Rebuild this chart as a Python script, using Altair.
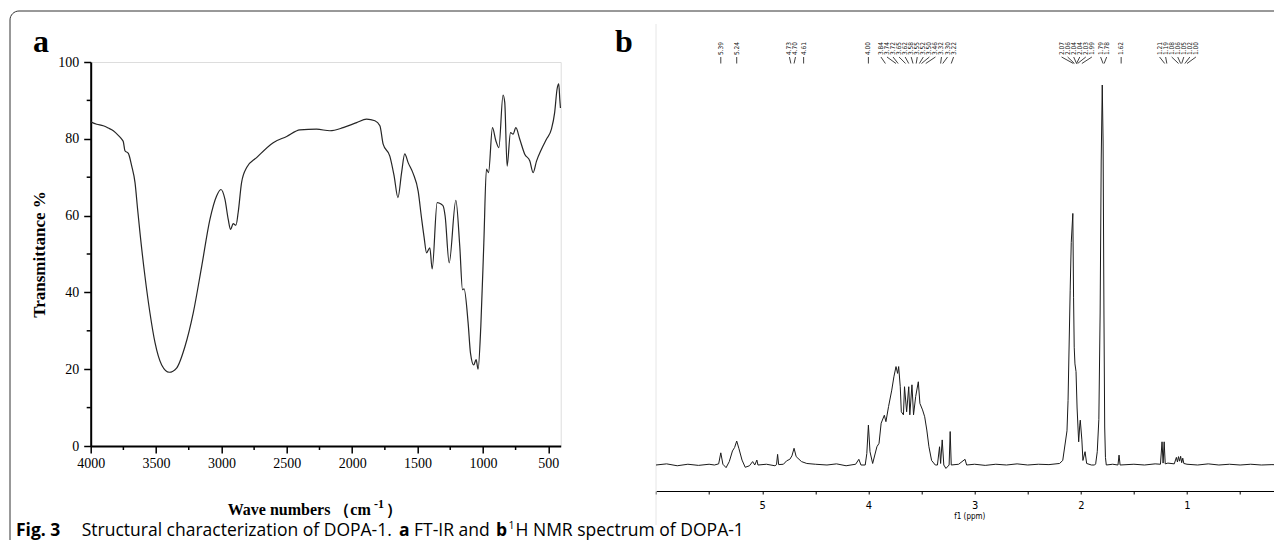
import altair as alt
import pandas as pd

# ---------------- data ----------------
# FT-IR spectrum (panel a)
ir_wavenumber = [4000, 3954, 3904, 3865, 3827, 3789, 3763, 3751, 3738, 3712, 3687, 3661, 3641, 3623,
                 3585, 3547, 3508, 3457, 3399, 3343, 3279, 3216, 3151, 3088, 3037, 3004, 2973, 2948,
                 2930, 2910, 2889, 2872, 2846, 2807, 2731, 2604, 2501, 2400, 2272, 2170, 2069, 1966,
                 1890, 1826, 1788, 1763, 1712, 1679, 1650, 1622, 1598, 1572, 1534, 1495, 1470, 1450,
                 1431, 1406, 1388, 1350, 1320, 1304, 1289, 1258, 1207, 1177, 1156, 1144, 1113, 1095,
                 1070, 1052, 1037, 1016, 993, 973, 957, 927, 901, 878, 846, 833, 815, 789, 769, 748,
                 718, 680, 641, 616, 590, 552, 514, 476, 451, 433, 420, 412, 407]
ir_transmittance = [84.4, 83.8, 83.4, 82.8, 82.1, 80.9, 79.9, 79.3, 76.9, 76.2, 73.0, 68.6, 61.6, 55.5,
                    44.2, 34.7, 26.9, 21.1, 19.2, 20.3, 25.9, 34.6, 46.8, 59.0, 65.1, 66.8, 64.2, 59.0,
                    56.4, 57.9, 57.5, 60.8, 68.6, 72.5, 75.1, 79.0, 80.6, 82.3, 82.5, 82.1, 82.9, 84.2,
                    85.1, 84.7, 83.4, 78.6, 75.5, 70.3, 64.7, 71.2, 76.1, 73.8, 71.0, 66.3, 59.5, 54.4,
                    50.3, 51.6, 46.1, 63.4, 63.0, 62.5, 59.9, 47.7, 64.0, 52.0, 40.7, 40.9, 32.0, 24.2,
                    21.1, 22.5, 20.0, 31.2, 52.9, 72.1, 71.2, 82.9, 79.5, 77.7, 91.4, 89.5, 72.9, 81.6,
                    81.2, 82.9, 79.9, 76.0, 74.2, 71.2, 74.2, 77.3, 79.9, 82.5, 86.9, 92.9, 94.3, 90.3,
                    88.0]
ir_x_ticks = [4000, 3500, 3000, 2500, 2000, 1500, 1000, 500]
ir_x_minor = [3750, 3250, 2750, 2250, 1750, 1250, 750]
ir_y_ticks = [0, 20, 40, 60, 80, 100]
ir_y_minor = [10, 30, 50, 70, 90]

# 1H NMR spectrum (panel b): chemical shift (ppm) and relative intensity
nmr_ppm = [6.00, 5.90, 5.80, 5.70, 5.60, 5.50, 5.45, 5.41, 5.39, 5.37, 5.34, 5.31, 5.28, 5.26, 5.24,
           5.22, 5.19, 5.16, 5.12, 5.09, 5.07, 5.05, 5.04, 4.96, 4.88, 4.865, 4.855, 4.845, 4.80,
           4.77, 4.74, 4.72, 4.70, 4.68, 4.63, 4.58, 4.50, 4.39, 4.30, 4.21, 4.12, 4.09, 4.07,
           4.03, 4.015, 4.00, 3.985, 3.96, 3.92, 3.90, 3.88, 3.85, 3.835, 3.81, 3.78, 3.76, 3.74,
           3.725, 3.715, 3.70, 3.69, 3.67, 3.66, 3.64, 3.62, 3.61, 3.59, 3.575, 3.555, 3.53, 3.515,
           3.49, 3.47, 3.45, 3.43, 3.405, 3.37, 3.35, 3.33, 3.32, 3.305, 3.29, 3.27, 3.24, 3.23,
           3.22, 3.15, 3.09, 3.075, 3.00, 2.90, 2.80, 2.70, 2.60, 2.50, 2.40, 2.30, 2.20, 2.17,
           2.13, 2.12, 2.10, 2.09, 2.075, 2.068, 2.062, 2.055, 2.045, 2.035, 2.02, 2.01, 2.005,
           1.99, 1.98, 1.96, 1.945, 1.90, 1.87, 1.86, 1.845, 1.83, 1.818, 1.808, 1.798, 1.79,
           1.782, 1.775, 1.768, 1.76, 1.70, 1.65, 1.64, 1.63, 1.50, 1.40, 1.30, 1.25, 1.235,
           1.225, 1.215, 1.205, 1.18, 1.12, 1.10, 1.09, 1.08, 1.07, 1.06, 1.05, 1.04, 1.03, 1.00,
           0.90, 0.80, 0.70, 0.60, 0.50, 0.40, 0.30, 0.20, 0.10]
nmr_intensity = [0.0, 0.3, -0.2, 0.2, -0.1, 0.2, 0.0, 0.3, 3.2, 0.2, -0.7, 0.9, 3.7, 4.6, 6.3,
                 4.4, 1.3, -0.6, -0.2, 0.9, 0.0, 1.3, 0.0, 0.2, -0.2, 0.1, 2.8, 0.1, 0.2,
                 1.1, 1.5, 2.4, 4.4, 2.2, 0.9, 0.4, 0.2, 0.0, 0.3, -0.2, 0.2, 1.5, 0.0,
                 0.0, 3.0, 10.5, 3.5, 0.4, 4.8, 5.7, 11.0, 13.1, 11.4, 15.4, 19.7, 23.2, 25.9,
                 24.1, 25.9, 20.6, 14.0, 13.2, 20.6, 14.0, 20.6, 13.2, 21.1, 13.2, 18.0, 21.9, 16.2,
                 14.5, 12.7, 9.2, 4.8, 1.2, 0.0, 0.0, 4.8, 0.4, 6.6, 0.0, -0.9, 0.0, 8.8,
                 0.0, 0.2, 1.5, 0.0, 0.2, -0.1, 0.2, 0.0, 0.3, 0.0, 0.2, 0.1, 0.4, 1.2,
                 9.0, 17.0, 46.0, 58.5, 66.2, 44.0, 31.0, 26.6, 24.6, 15.0, 6.1, 10.5, 11.8,
                 6.6, 1.2, 3.5, 0.4, 0.0, 0.0, 0.3, 3.5, 12.0, 40.0, 80.0, 100.0, 85.0,
                 40.0, 10.0, 2.0, 0.0, 0.2, 0.0, 2.6, 0.0, 0.2, 0.0, 0.3, 0.2, 6.1,
                 0.5, 6.1, 0.3, 0.5, 0.3, 2.0, 0.8, 2.2, 1.0, 2.3, 0.6, 1.8, 0.4, 0.2,
                 0.0, 0.3, 0.0, 0.2, 0.0, 0.2, 0.0, 0.1, 0.0]
nmr_peak_labels = [5.39, 5.24, 4.73, 4.70, 4.61, 4.00, 3.84, 3.74, 3.72, 3.65, 3.62, 3.58, 3.55,
                   3.52, 3.50, 3.46, 3.32, 3.30, 3.22, 2.07, 2.06, 2.04, 2.04, 2.03, 1.99, 1.79,
                   1.78, 1.62, 1.21, 1.19, 1.08, 1.06, 1.05, 1.02, 1.00]
nmr_ticks = [6.0, 5.5, 5.0, 4.5, 4.0, 3.5, 3.0, 2.5, 2.0, 1.5, 1.0, 0.5]

caption_parts = ["Fig. 3", "Structural characterization of DOPA-1.", "a", "FT-IR and", "b", "1",
                 "H NMR spectrum of DOPA-1"]
x_title_parts = ["Wave numbers （cm", "-1", "）"]

# ---------------- layout ----------------
W, H = 470, 384                 # FT-IR plot area
PAD_L, PAD_T = 82.7, 54
SVG_W, SVG_H = 1266, 532
NMR_X0, NMR_PX_PER_PPM = 565.3, 106.2
NMR_DOMAIN = [6.0, 0.1]
NMR_BASE_Y, NMR_TOP_Y = 403, 23

SERIF = "Liberation Serif, Times New Roman, serif"
SANS = "Open Sans, Noto Sans, sans-serif"
NARROW = "Liberation Sans Narrow, DejaVu Sans Condensed, Arial Narrow, sans-serif"

CAP_Y = 473.5        # caption baseline (plot coords)
TITLE_Y = 453        # x-axis title baseline (plot coords)
CAP_FS = 17.5


def spread(values, gap):
    pos = sorted([float(v) for v in values], reverse=True)
    for _ in range(400):
        for i in range(len(pos) - 1):
            d = pos[i] - pos[i + 1]
            if d < gap:
                s = (gap - d) / 2
                pos[i] += s
                pos[i + 1] -= s
    return pos


peaks_sorted = sorted(nmr_peak_labels, reverse=True)
label_pos = spread(peaks_sorted, 0.057)

ir_df = pd.DataFrame({"wn": ir_wavenumber, "t": ir_transmittance})
nmr_df = pd.DataFrame({"ppm": nmr_ppm, "i": nmr_intensity})
lab_df = pd.DataFrame({"peak": peaks_sorted, "lx": label_pos,
                       "txt": [f"{v:.2f}" for v in peaks_sorted]})

ir_x = alt.Scale(domain=[4000, 405], range=[0, W], nice=False, zero=False)
ir_y = alt.Scale(domain=[0, 100], range=[H, 0], nice=False, zero=False)
nmr_x = alt.Scale(domain=NMR_DOMAIN,
                  range=[NMR_X0, NMR_X0 + (NMR_DOMAIN[0] - NMR_DOMAIN[1]) * NMR_PX_PER_PPM],
                  nice=False, zero=False)
nmr_y = alt.Scale(domain=[0, 100], range=[NMR_BASE_Y, NMR_TOP_Y], nice=False, zero=False)

one = pd.DataFrame({"k": [0]})


def text(t, x, y, size, font, weight="normal", align="left", baseline="alphabetic", color="black"):
    return alt.Chart(one).mark_text(align=align, baseline=baseline, fontSize=size, font=font,
                                    fontWeight=weight, color=color).encode(
        x=alt.value(x), y=alt.value(y), text=alt.value(t))


frame = alt.Chart(one).mark_rect(fill="transparent", stroke="#333333", strokeWidth=1, cornerRadius=9).encode(
    x=alt.value(-80.7), y=alt.value(-51), x2=alt.value(1300), y2=alt.value(600))

nmr_edge = alt.Chart(one).mark_rule(color="#e6e6e6", strokeWidth=1).encode(
    x=alt.value(NMR_X0), y=alt.value(-38), y2=alt.value(463))

axis_common = dict(tickSize=7, tickWidth=1.5, domainWidth=2, labelFont=SERIF, labelFontSize=14,
                   labelColor="black", domainColor="black", tickColor="black", grid=False,
                   labelFlush=False, labelOverlap=False, format="d")

ir_line = alt.Chart(ir_df).mark_line(color="#262626", strokeWidth=1.2, interpolate="monotone").encode(
    x=alt.X("wn:Q", scale=ir_x, axis=alt.Axis(orient="bottom", values=ir_x_ticks, title=None,
                                              labelPadding=3, **axis_common)),
    y=alt.Y("t:Q", scale=ir_y, axis=alt.Axis(orient="left", values=ir_y_ticks,
                                             title="Transmittance %", titleFont=SERIF, titleFontSize=17,
                                             titleFontWeight="bold", titleColor="black", titlePadding=9,
                                             labelPadding=5, **axis_common)))

ir_minor_x = alt.Chart(pd.DataFrame({"v": ir_x_minor})).mark_rule(color="black", strokeWidth=1.5).encode(
    x=alt.X("v:Q", scale=ir_x, axis=None), y=alt.value(H), y2=alt.value(H + 4))
ir_minor_y = alt.Chart(pd.DataFrame({"v": ir_y_minor})).mark_rule(color="black", strokeWidth=1.5).encode(
    y=alt.Y("v:Q", scale=ir_y, axis=None), x=alt.value(0), x2=alt.value(-4))

nmr_line = alt.Chart(nmr_df).mark_line(color="#1a1a1a", strokeWidth=1).encode(
    x=alt.X("ppm:Q", scale=nmr_x, axis=alt.Axis(
        orient="bottom", offset=45, values=nmr_ticks,
        labelExpr="(datum.value % 1 == 0 && datum.value < 6) ? format(datum.value, 'd') : ''",
        title="f1 (ppm)", titleFont=NARROW, titleFontSize=8, titleFontWeight="normal",
        titleColor="black", titlePadding=2, tickSize=3, tickWidth=1, domainWidth=1, labelPadding=5,
        labelFont=NARROW, labelFontSize=11, labelColor="black", domainColor="black",
        tickColor="black", grid=False, labelFlush=False, labelOverlap=False)),
    y=alt.Y("i:Q", scale=nmr_y, axis=None))

peak_text = alt.Chart(lab_df).mark_text(angle=270, align="left", baseline="middle", fontSize=6.5,
                                        font=NARROW, color="#111111").encode(
    x=alt.X("lx:Q", scale=nmr_x, axis=None), y=alt.value(-7), text="txt:N")
peak_conn = alt.Chart(lab_df).mark_rule(color="#111111", strokeWidth=0.8).encode(
    x=alt.X("lx:Q", scale=nmr_x, axis=None), x2="peak:Q", y=alt.value(-5), y2=alt.value(1.5))

texts = [
    text("a", -57.7, -10, 32, SERIF, "bold"),
    text("b", 524.3, -10, 32, SERIF, "bold"),
    text(x_title_parts[0], 137, TITLE_Y, 16, SERIF, "bold"),
    text(x_title_parts[1], 283.3, TITLE_Y - 7, 12, SERIF, "bold"),
    text(x_title_parts[2], 295.3, TITLE_Y, 16, SERIF, "bold"),
    text(caption_parts[0], -74.7, CAP_Y, CAP_FS, SANS, "bold"),
    text(caption_parts[1], -9.0, CAP_Y, CAP_FS, SANS),
    text(caption_parts[2], 308.3, CAP_Y, CAP_FS, SANS, "bold"),
    text(caption_parts[3], 323.3, CAP_Y, CAP_FS, SANS),
    text(caption_parts[4], 405.3, CAP_Y, CAP_FS, SANS, "bold"),
    text(caption_parts[5], 417.8, CAP_Y - 7, 10.5, SANS),
    text(caption_parts[6], 424.8, CAP_Y, CAP_FS, SANS),
]

chart = alt.layer(frame, nmr_edge, ir_minor_x, ir_minor_y, ir_line, nmr_line, peak_conn, peak_text,
                  *texts).resolve_scale(x="independent", y="independent").properties(
    width=W, height=H,
    autosize=alt.AutoSizeParams(type="none"),
    padding={"left": PAD_L, "top": PAD_T, "right": SVG_W - PAD_L - W, "bottom": SVG_H - PAD_T - H},
).configure_view(stroke="black", strokeWidth=2).configure(background="white")

chart.save("out.html", embed_options={"renderer": "svg", "actions": False})
